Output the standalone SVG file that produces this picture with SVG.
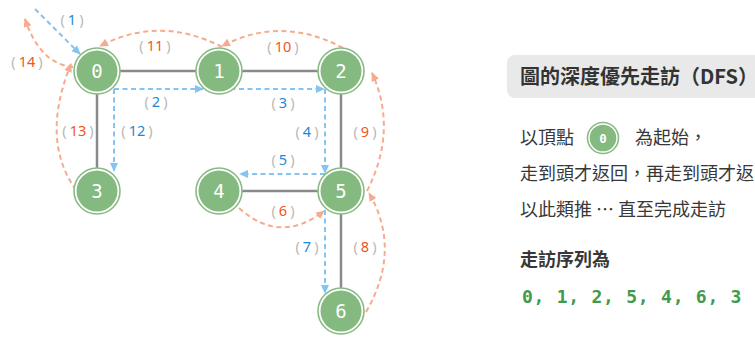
<svg xmlns="http://www.w3.org/2000/svg" width="755" height="337" viewBox="0 0 755 337">
<style>
.edge{stroke:#8a8a8a;stroke-width:2.5;fill:none}
.blue{stroke:#84c4f2;stroke-width:2;stroke-dasharray:5 3.5;fill:none}
.orange{stroke:#f6ab8e;stroke-width:2;stroke-dasharray:5 3.5;fill:none}
.ring{fill:#fff;stroke:#88bb84;stroke-width:1.6}
.core{fill:#84b97f}
.nl{font-family:"DejaVu Sans Mono",monospace;font-size:19px;fill:#fff;text-anchor:middle}
.lb{font-family:"Noto Sans","DejaVu Sans",sans-serif;font-size:14.5px;text-anchor:middle}
.p{fill:#b8b8b8}
.nb{fill:#1e88d6}
.no{fill:#f0551c}
.cjk{font-family:"Noto Sans CJK TC","Noto Sans CJK SC",sans-serif;fill:#383838;font-size:18px}
.title{font-size:20px;font-weight:bold;fill:#333}
</style>
<defs>
<marker id="ab" markerUnits="userSpaceOnUse" markerWidth="10" markerHeight="10" refX="8" refY="4" orient="auto"><path d="M0,0 L9,4 L0,8 Z" fill="#84c4f2"/></marker>
<marker id="ao" markerUnits="userSpaceOnUse" markerWidth="10" markerHeight="10" refX="8" refY="4" orient="auto"><path d="M0,0 L9,4 L0,8 Z" fill="#f6ab8e"/></marker>
</defs>
<g id="edges">
<line class="edge" x1="97" y1="71" x2="341" y2="71"/>
<line class="edge" x1="97" y1="71" x2="97" y2="191"/>
<line class="edge" x1="341" y1="71" x2="341" y2="311"/>
<line class="edge" x1="219" y1="191" x2="341" y2="191"/>
</g>
<g id="connectors">
<path class="blue" d="M35,9 L80,54" marker-end="url(#ab)"/>
<path class="blue" d="M114,89 L203,89" marker-end="url(#ab)"/>
<path class="blue" d="M114,89 L114,171" marker-end="url(#ab)"/>
<path class="blue" d="M222,89 L324,89" marker-end="url(#ab)"/>
<path class="blue" d="M325,89 L325,173" marker-end="url(#ab)"/>
<path class="blue" d="M325,174 L240,174" marker-end="url(#ab)"/>
<path class="blue" d="M325,210 L325,293" marker-end="url(#ab)"/>
<path class="orange" d="M239,208 Q280,245 324,211" marker-end="url(#ao)"/>
<path class="orange" d="M366,312 Q402,250 369,193" marker-end="url(#ao)"/>
<path class="orange" d="M367,191 Q398,130 372,73" marker-end="url(#ao)"/>
<path class="orange" d="M343,48 Q282,15 222,46" marker-end="url(#ao)"/>
<path class="orange" d="M222,47 Q160,15 100,46" marker-end="url(#ao)"/>
<path class="orange" d="M76,190 Q40,140 71,64" marker-end="url(#ao)"/>
<path class="orange" d="M73,67 Q40,64 25,19" marker-end="url(#ao)"/>
</g>
<g id="labels">
<text class="lb" x="72" y="25"><tspan class="p">(</tspan><tspan class="nb" dx="3">1</tspan><tspan class="p" dx="3">)</tspan></text>
<text class="lb" x="156" y="107"><tspan class="p">(</tspan><tspan class="nb" dx="3">2</tspan><tspan class="p" dx="3">)</tspan></text>
<text class="lb" x="283" y="108"><tspan class="p">(</tspan><tspan class="nb" dx="3">3</tspan><tspan class="p" dx="3">)</tspan></text>
<text class="lb" x="307" y="137"><tspan class="p">(</tspan><tspan class="nb" dx="3">4</tspan><tspan class="p" dx="3">)</tspan></text>
<text class="lb" x="283" y="165"><tspan class="p">(</tspan><tspan class="nb" dx="3">5</tspan><tspan class="p" dx="3">)</tspan></text>
<text class="lb" x="283" y="216"><tspan class="p">(</tspan><tspan class="no" dx="3">6</tspan><tspan class="p" dx="3">)</tspan></text>
<text class="lb" x="307" y="252"><tspan class="p">(</tspan><tspan class="nb" dx="3">7</tspan><tspan class="p" dx="3">)</tspan></text>
<text class="lb" x="365" y="252"><tspan class="p">(</tspan><tspan class="no" dx="3">8</tspan><tspan class="p" dx="3">)</tspan></text>
<text class="lb" x="365" y="137"><tspan class="p">(</tspan><tspan class="no" dx="3">9</tspan><tspan class="p" dx="3">)</tspan></text>
<text class="lb" x="283" y="52"><tspan class="p">(</tspan><tspan class="no" dx="3">10</tspan><tspan class="p" dx="3">)</tspan></text>
<text class="lb" x="155" y="51"><tspan class="p">(</tspan><tspan class="no" dx="3">11</tspan><tspan class="p" dx="3">)</tspan></text>
<text class="lb" x="137" y="136"><tspan class="p">(</tspan><tspan class="nb" dx="3">12</tspan><tspan class="p" dx="3">)</tspan></text>
<text class="lb" x="78" y="136"><tspan class="p">(</tspan><tspan class="no" dx="3">13</tspan><tspan class="p" dx="3">)</tspan></text>
<text class="lb" x="27" y="67"><tspan class="p">(</tspan><tspan class="no" dx="3">14</tspan><tspan class="p" dx="3">)</tspan></text>
</g>
<g id="node0"><circle class="ring" cx="97" cy="71" r="23"/><circle class="core" cx="97" cy="71" r="20.5"/><text class="nl" x="97" y="77.5">0</text></g>
<g id="node1"><circle class="ring" cx="219" cy="71" r="23"/><circle class="core" cx="219" cy="71" r="20.5"/><text class="nl" x="219" y="77.5">1</text></g>
<g id="node2"><circle class="ring" cx="341" cy="71" r="23"/><circle class="core" cx="341" cy="71" r="20.5"/><text class="nl" x="341" y="77.5">2</text></g>
<g id="node3"><circle class="ring" cx="97" cy="191" r="23"/><circle class="core" cx="97" cy="191" r="20.5"/><text class="nl" x="97" y="197.5">3</text></g>
<g id="node4"><circle class="ring" cx="219" cy="191" r="23"/><circle class="core" cx="219" cy="191" r="20.5"/><text class="nl" x="219" y="197.5">4</text></g>
<g id="node5"><circle class="ring" cx="341" cy="191" r="23"/><circle class="core" cx="341" cy="191" r="20.5"/><text class="nl" x="341" y="197.5">5</text></g>
<g id="node6"><circle class="ring" cx="341" cy="311" r="23"/><circle class="core" cx="341" cy="311" r="20.5"/><text class="nl" x="341" y="317.5">6</text></g>
<g id="panel">
<rect x="507" y="55" width="270" height="43" rx="8" fill="#e9e9e9"/>
<text class="cjk title" x="520" y="84">圖的深度優先走訪（DFS）</text>
<text class="cjk" x="520" y="144">以頂點</text>
<g id="icon0"><circle class="ring" cx="603" cy="138" r="15.5"/><circle class="core" cx="603" cy="138" r="13.3"/><text x="603" y="142.5" font-family="DejaVu Sans Mono,monospace" font-size="12.5" font-weight="bold" fill="#fff" text-anchor="middle">0</text></g>
<text class="cjk" x="635" y="144">為起始，</text>
<text class="cjk" x="520" y="180">走到頭才返回，再走到頭才返回</text>
<text class="cjk" x="520" y="216">以此類推 ⋯ 直至完成走訪</text>
<text class="cjk" x="520" y="266" font-weight="bold">走訪序列為</text>
<text x="522" y="303" font-family="DejaVu Sans Mono,monospace" font-size="18" font-weight="bold" letter-spacing="0.75" fill="#3f9a4c">0, 1, 2, 5, 4, 6, 3</text>
</g>
</svg>
